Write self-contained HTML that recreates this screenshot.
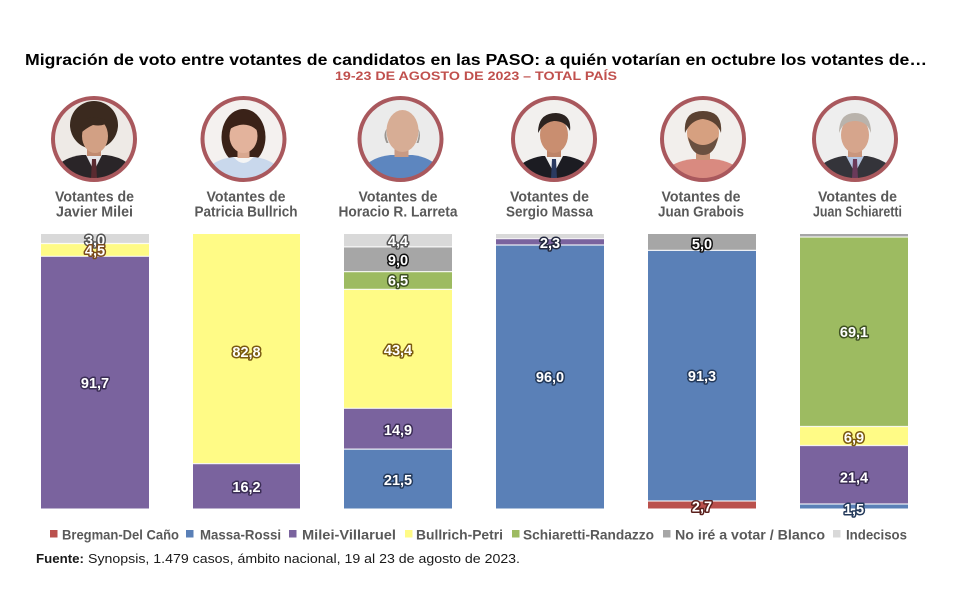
<!DOCTYPE html>
<html><head><meta charset="utf-8"><style>
html,body{margin:0;padding:0;background:#fff;}
svg{display:block;}
.t{font-family:"Liberation Sans",Arial,sans-serif;}
.lb{font-family:"Liberation Sans",Arial,sans-serif;font-weight:bold;font-size:14.5px;fill:#fff;stroke-width:3;paint-order:stroke;stroke-linejoin:round;text-anchor:middle;}
.cl{font-family:"Liberation Sans",Arial,sans-serif;font-weight:bold;font-size:15px;fill:#595959;text-anchor:middle;}
.lg{font-family:"Liberation Sans",Arial,sans-serif;font-weight:bold;font-size:14px;fill:#595959;}
</style></head><body>
<svg width="969" height="609" viewBox="0 0 969 609" xmlns="http://www.w3.org/2000/svg">
<defs><clipPath id="c"><circle cx="0" cy="0" r="40"/></clipPath></defs>
<rect width="969" height="609" fill="#fff"/>
<text class="t" x="476" y="65" text-anchor="middle" font-size="15.5" font-weight="bold" fill="#000" textLength="902" lengthAdjust="spacingAndGlyphs">Migración de voto entre votantes de candidatos en las PASO: a quién votarían en octubre los votantes de…</text>
<text class="t" x="476" y="80" text-anchor="middle" font-size="12" font-weight="bold" fill="#c0504d" textLength="282" lengthAdjust="spacingAndGlyphs">19-23 DE AGOSTO DE 2023 – TOTAL PAÍS</text>

<!-- Photos -->
<g transform="translate(94,139)"><g clip-path="url(#c)">
<rect x="-45" y="-45" width="90" height="90" fill="#eeeae6"/>
<ellipse cx="0" cy="-14" rx="24" ry="24" fill="#3b2a1f"/>
<path d="M-40,45 L-40,30 Q-30,18 -12,16 L12,16 Q30,18 40,30 L40,45Z" fill="#2a2528"/>
<polygon points="-8,16 8,16 0,32" fill="#e6e6ea"/><polygon points="-2,20 2,20 3,40 -3,40" fill="#5a2a30"/>
<rect x="-7" y="4" width="14" height="13" fill="#c08a70"/>
<ellipse cx="1" cy="-3" rx="13" ry="17" fill="#d2a084"/>
<path d="M-17,-10 Q-8,-28 15,-18 Q10,-12 -1,-14 Q-10,-10 -17,-2Z" fill="#3b2a1f"/>
</g><circle r="41" fill="none" stroke="#a9585d" stroke-width="4"/></g>

<g transform="translate(243.5,139)"><g clip-path="url(#c)">
<rect x="-45" y="-45" width="90" height="90" fill="#f4f1ef"/>
<ellipse cx="0" cy="-2" rx="22" ry="28" fill="#3a2218"/>
<path d="M-40,45 L-40,34 Q-30,20 -10,18 L10,18 Q30,20 40,34 L40,45Z" fill="#c9d8ec"/>
<path d="M-10,18 Q0,30 10,18Z" fill="#f5f5f5"/>
<rect x="-6" y="6" width="12" height="13" fill="#d9a890"/>
<ellipse cx="0" cy="-3" rx="14" ry="17" fill="#e3b39c"/>
<path d="M-16,-8 Q-10,-26 6,-22 Q16,-18 16,-6 Q8,-16 -4,-14 Q-12,-12 -16,-8Z" fill="#3a2218"/>
</g><circle r="41" fill="none" stroke="#a9585d" stroke-width="4"/></g>

<g transform="translate(400.5,139)"><g clip-path="url(#c)">
<rect x="-45" y="-45" width="90" height="90" fill="#ebebeb"/>
<path d="M-40,45 L-40,32 Q-30,18 -10,16 L12,16 Q30,18 40,30 L40,45Z" fill="#5d86bf"/>
<rect x="-6" y="4" width="14" height="14" fill="#c89a84"/>
<ellipse cx="2" cy="-8" rx="16" ry="21" fill="#d7ad95"/>
<path d="M-14,-10 Q-15,-2 -12,4 L-14,4 Q-18,-4 -14,-10Z" fill="#9a9590"/>
<path d="M18,-10 Q19,-2 16,4 L18,4 Q21,-4 18,-10Z" fill="#9a9590"/>
</g><circle r="41" fill="none" stroke="#a9585d" stroke-width="4"/></g>

<g transform="translate(554,139)"><g clip-path="url(#c)">
<rect x="-45" y="-45" width="90" height="90" fill="#f2f0ee"/>
<path d="M-40,45 L-40,32 Q-30,20 -12,17 L12,17 Q30,20 40,32 L40,45Z" fill="#1c1c22"/>
<polygon points="-9,17 9,17 0,34" fill="#f2f2f2"/><polygon points="-2,20 2,20 3,40 -3,40" fill="#2a3a60"/>
<rect x="-7" y="4" width="14" height="14" fill="#bd8468"/>
<ellipse cx="0" cy="-4" rx="14" ry="18" fill="#c98e70"/>
<path d="M-16,-6 Q-16,-26 2,-26 Q18,-25 16,-8 Q12,-18 0,-18 Q-10,-17 -16,-6Z" fill="#2b2320"/>
</g><circle r="41" fill="none" stroke="#a9585d" stroke-width="4"/></g>

<g transform="translate(703,139)"><g clip-path="url(#c)">
<rect x="-45" y="-45" width="90" height="90" fill="#f2efec"/>
<path d="M-40,45 L-40,34 Q-30,22 -10,20 L10,20 Q30,22 40,34 L40,45Z" fill="#d98a80"/>
<rect x="-7" y="6" width="14" height="15" fill="#c99378"/>
<ellipse cx="0" cy="-6" rx="16" ry="19" fill="#d6a080"/>
<path d="M-15,-2 Q-12,16 0,16 Q12,16 15,-2 Q8,6 0,6 Q-8,6 -15,-2Z" fill="#6a5040"/>
<path d="M-18,-6 Q-20,-28 0,-28 Q20,-28 18,-6 Q14,-18 0,-20 Q-12,-19 -18,-6Z" fill="#5b4232"/>
</g><circle r="41" fill="none" stroke="#a9585d" stroke-width="4"/></g>

<g transform="translate(855,139)"><g clip-path="url(#c)">
<rect x="-45" y="-45" width="90" height="90" fill="#eeeeee"/>
<path d="M-40,45 L-40,32 Q-30,20 -12,17 L12,17 Q30,20 40,32 L40,45Z" fill="#34343a"/>
<polygon points="-9,17 9,17 0,34" fill="#b6c6e2"/><polygon points="-2,20 2,20 3,40 -3,40" fill="#6a3a5a"/>
<rect x="-7" y="4" width="14" height="14" fill="#c9967e"/>
<ellipse cx="0" cy="-4" rx="14" ry="18" fill="#d6a58c"/>
<path d="M-16,-6 Q-16,-26 0,-26 Q16,-26 16,-6 Q12,-18 0,-18 Q-12,-18 -16,-6Z" fill="#b9b3ac"/>
</g><circle r="41" fill="none" stroke="#a9585d" stroke-width="4"/></g>

<!-- Column labels -->
<text class="cl" x="94.5" y="201.5" textLength="79" lengthAdjust="spacingAndGlyphs">Votantes de</text>
<text class="cl" x="94.5" y="216.5" textLength="77" lengthAdjust="spacingAndGlyphs">Javier Milei</text>
<text class="cl" x="246" y="201.5" textLength="79" lengthAdjust="spacingAndGlyphs">Votantes de</text>
<text class="cl" x="246" y="216.5" textLength="103" lengthAdjust="spacingAndGlyphs">Patricia Bullrich</text>
<text class="cl" x="398" y="201.5" textLength="79" lengthAdjust="spacingAndGlyphs">Votantes de</text>
<text class="cl" x="398" y="216.5" textLength="119" lengthAdjust="spacingAndGlyphs">Horacio R. Larreta</text>
<text class="cl" x="549.5" y="201.5" textLength="79" lengthAdjust="spacingAndGlyphs">Votantes de</text>
<text class="cl" x="549.5" y="216.5" textLength="87" lengthAdjust="spacingAndGlyphs">Sergio Massa</text>
<text class="cl" x="701" y="201.5" textLength="79" lengthAdjust="spacingAndGlyphs">Votantes de</text>
<text class="cl" x="701" y="216.5" textLength="86" lengthAdjust="spacingAndGlyphs">Juan Grabois</text>
<text class="cl" x="857.5" y="201.5" textLength="79" lengthAdjust="spacingAndGlyphs">Votantes de</text>
<text class="cl" x="857.5" y="216.5" textLength="89" lengthAdjust="spacingAndGlyphs">Juan Schiaretti</text>

<!-- Bars -->
<rect x="41" y="234" width="108" height="9.5" fill="#d9d9d9"/>
<rect x="41" y="243.5" width="108" height="12.8" fill="#fffb86"/>
<rect x="41" y="256.3" width="108" height="252.2" fill="#7a639e"/>
<rect x="193" y="234" width="107" height="229.6" fill="#fffb86"/>
<rect x="193" y="463.6" width="107" height="44.9" fill="#7a639e"/>
<rect x="344" y="234" width="108" height="12.9" fill="#d9d9d9"/>
<rect x="344" y="246.9" width="108" height="24.7" fill="#a6a6a6"/>
<rect x="344" y="271.6" width="108" height="17.8" fill="#9dbb61"/>
<rect x="344" y="289.4" width="108" height="118.9" fill="#fffb86"/>
<rect x="344" y="408.3" width="108" height="40.8" fill="#7a639e"/>
<rect x="344" y="449.1" width="108" height="59.4" fill="#5a80b7"/>
<rect x="496" y="234" width="108" height="4.7" fill="#d9d9d9"/>
<rect x="496" y="238.7" width="108" height="6.3" fill="#7a639e"/>
<rect x="496" y="245" width="108" height="263.5" fill="#5a80b7"/>
<rect x="648" y="234" width="108" height="16.4" fill="#a6a6a6"/>
<rect x="648" y="250.4" width="108" height="250.6" fill="#5a80b7"/>
<rect x="648" y="501" width="108" height="7.5" fill="#ba514d"/>
<rect x="800" y="234" width="108" height="3" fill="#a6a6a6"/>
<rect x="800" y="237" width="108" height="189.5" fill="#9dbb61"/>
<rect x="800" y="426.5" width="108" height="19" fill="#fffb86"/>
<rect x="800" y="445.5" width="108" height="58.5" fill="#7a639e"/>
<rect x="800" y="504" width="108" height="4.5" fill="#5a80b7"/>

<g stroke="#ffffff" stroke-width="1.2" opacity="0.85">
<line x1="41" x2="149" y1="243.5" y2="243.5"/><line x1="41" x2="149" y1="256.3" y2="256.3"/>
<line x1="193" x2="300" y1="463.6" y2="463.6"/>
<line x1="344" x2="452" y1="246.9" y2="246.9"/><line x1="344" x2="452" y1="271.6" y2="271.6"/><line x1="344" x2="452" y1="289.4" y2="289.4"/><line x1="344" x2="452" y1="408.3" y2="408.3"/><line x1="344" x2="452" y1="449.1" y2="449.1"/>
<line x1="496" x2="604" y1="238.7" y2="238.7"/><line x1="496" x2="604" y1="245" y2="245"/>
<line x1="648" x2="756" y1="250.4" y2="250.4"/><line x1="648" x2="756" y1="501" y2="501"/>
<line x1="800" x2="908" y1="237" y2="237"/><line x1="800" x2="908" y1="426.5" y2="426.5"/><line x1="800" x2="908" y1="445.5" y2="445.5"/><line x1="800" x2="908" y1="504" y2="504"/>
</g>

<!-- Value labels -->
<text class="lb" x="95" y="245" stroke="#555">3,0</text>
<text class="lb" x="95" y="255.5" stroke="#7a4a1a">4,5</text>
<text class="lb" x="95" y="388" stroke="#3b2d55">91,7</text>
<text class="lb" x="246.5" y="357" stroke="#7a5a10">82,8</text>
<text class="lb" x="246.5" y="492" stroke="#3b2d55">16,2</text>
<text class="lb" x="398" y="246" stroke="#555">4,4</text>
<text class="lb" x="398" y="265" stroke="#111">9,0</text>
<text class="lb" x="398" y="285.5" stroke="#3f5222">6,5</text>
<text class="lb" x="398" y="355" stroke="#7a5a10">43,4</text>
<text class="lb" x="398" y="435" stroke="#3b2d55">14,9</text>
<text class="lb" x="398" y="485" stroke="#23395a">21,5</text>
<text class="lb" x="550" y="248" stroke="#23283f">2,3</text>
<text class="lb" x="550" y="382" stroke="#23395a">96,0</text>
<text class="lb" x="702" y="249" stroke="#111">5,0</text>
<text class="lb" x="702" y="381" stroke="#23395a">91,3</text>
<text class="lb" x="702" y="511.5" stroke="#5a1f1c">2,7</text>
<text class="lb" x="854" y="337" stroke="#3f5222">69,1</text>
<text class="lb" x="854" y="442.5" stroke="#7a5a10">6,9</text>
<text class="lb" x="854" y="482.5" stroke="#3b2d55">21,4</text>
<text class="lb" x="854" y="514" stroke="#23395a">1,5</text>

<!-- Legend -->
<rect x="50" y="530" width="7.5" height="7.5" fill="#ba514d"/>
<text class="lg" x="62" y="539.5" textLength="117" lengthAdjust="spacingAndGlyphs">Bregman-Del Caño</text>
<rect x="186" y="530" width="7.5" height="7.5" fill="#5a80b7"/>
<text class="lg" x="200" y="539.5" textLength="81" lengthAdjust="spacingAndGlyphs">Massa-Rossi</text>
<rect x="289" y="530" width="7.5" height="7.5" fill="#7a639e"/>
<text class="lg" x="302" y="539.5" textLength="94" lengthAdjust="spacingAndGlyphs">Milei-Villaruel</text>
<rect x="405" y="530" width="7.5" height="7.5" fill="#fffb86"/>
<text class="lg" x="416" y="539.5" textLength="87" lengthAdjust="spacingAndGlyphs">Bullrich-Petri</text>
<rect x="512" y="530" width="7.5" height="7.5" fill="#9dbb61"/>
<text class="lg" x="523" y="539.5" textLength="131" lengthAdjust="spacingAndGlyphs">Schiaretti-Randazzo</text>
<rect x="663" y="530" width="7.5" height="7.5" fill="#a6a6a6"/>
<text class="lg" x="675" y="539.5" textLength="150" lengthAdjust="spacingAndGlyphs">No iré a votar / Blanco</text>
<rect x="833" y="530" width="7.5" height="7.5" fill="#d9d9d9"/>
<text class="lg" x="846" y="539.5" textLength="61" lengthAdjust="spacingAndGlyphs">Indecisos</text>

<!-- Footer -->
<text class="t" x="36" y="563" font-size="13" font-weight="bold" fill="#1a1a1a" textLength="48" lengthAdjust="spacingAndGlyphs">Fuente:</text>
<text class="t" x="88" y="563" font-size="13" fill="#1a1a1a" textLength="432" lengthAdjust="spacingAndGlyphs">Synopsis, 1.479 casos, ámbito nacional, 19 al 23 de agosto de 2023.</text>
</svg>
</body></html>
